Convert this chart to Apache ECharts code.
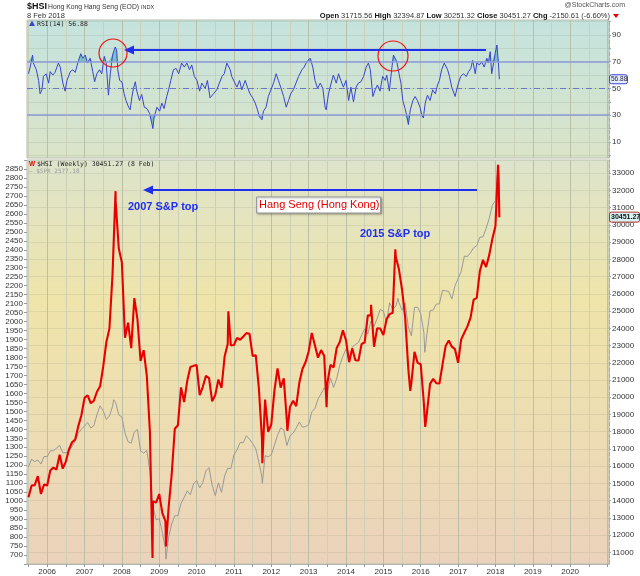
<!DOCTYPE html>
<html lang="en" style="height: 100%">

<head>
  <meta charset="utf-8">
</head>

<body style="height: 100%; margin: 0; background: #fff">
  <div id="container" style="width: 640px; height: 576px"></div>

  <script type="text/javascript" src="https://fastly.jsdelivr.net/npm/echarts@6/dist/echarts.min.js"></script>

  <script type="text/javascript">
    // monthly closes, first value = end of June 2005
    var firstMonth = [2005, 6];
    var hsiClose = [
      14201, 14880, 14903, 15428, 14386, 14937, 14876,
      15753, 15918, 15805, 16661, 15857, 16267, 16971, 17392, 17543, 18324, 18960, 19965,
      20106, 19652, 19801, 20319, 20635, 21773, 23185, 23984, 27143, 31352, 28643, 27813,
      23456, 24332, 22849, 25755, 24533, 22102, 22731, 21262, 18016, 13969, 13888, 14387,
      13278, 12812, 13576, 15521, 18171, 18379, 20573, 19724, 20955, 21752, 21822, 21873,
      20122, 20609, 21239, 21108, 19765, 20129, 21030, 20537, 22358, 23096, 23008, 23035,
      23447, 23338, 23528, 23720, 23684, 22398, 22440, 20535, 17592, 19864, 17989, 18434,
      20390, 21680, 20556, 21094, 18630, 19441, 19796, 19483, 20840, 21642, 22030, 22657,
      23730, 23020, 22300, 22737, 22392, 20803, 21883, 21731, 22860, 23206, 23881, 23306,
      22035, 22837, 22151, 22134, 23082, 23191, 24757, 24742, 22933, 23998, 23987, 23605,
      24507, 24823, 24901, 28133, 27424, 26250, 24636, 21670, 20846, 22640, 21996, 21914,
      19683, 19112, 20777, 21067, 20815, 20794, 21891, 22977, 23297, 22935, 22790, 22001,
      23361, 23741, 24112, 24615, 25661, 25765, 27324, 27970, 27554, 28246, 29177, 29919,
      32887
    ];
    var spxClose = [
      1191, 1234, 1220, 1229, 1207, 1249, 1248,
      1280, 1281, 1295, 1311, 1270, 1270, 1277, 1304, 1336, 1378, 1401, 1418,
      1438, 1407, 1421, 1482, 1531, 1503, 1455, 1474, 1527, 1549, 1481, 1468,
      1379, 1331, 1323, 1386, 1400, 1280, 1267, 1283, 1165, 969, 896, 903,
      826, 735, 798, 873, 919, 919, 987, 1021, 1057, 1036, 1096, 1115,
      1074, 1104, 1169, 1187, 1089, 1031, 1102, 1049, 1141, 1183, 1181, 1258,
      1286, 1327, 1326, 1364, 1345, 1321, 1292, 1219, 1131, 1253, 1247, 1258,
      1312, 1366, 1408, 1398, 1310, 1362, 1379, 1407, 1441, 1412, 1416, 1426,
      1498, 1515, 1569, 1598, 1631, 1606, 1686, 1633, 1682, 1757, 1806, 1848,
      1783, 1859, 1872, 1884, 1924, 1960, 1931, 2003, 1972, 2018, 2068, 2059,
      1995, 2105, 2068, 2086, 2107, 2063, 2104, 1972, 1920, 2079, 2080, 2044,
      1940, 1932, 2060, 2065, 2097, 2099, 2174, 2171, 2168, 2126, 2199, 2239,
      2279, 2364, 2363, 2384, 2412, 2423, 2470, 2472, 2519, 2575, 2648, 2674,
      2824
    ];
    // intra-month swing points (decimal year)
    var hsiSwingDates = [2007.83, 2008.82, 2009.18, 2010.85, 2011.76, 2012.43, 2013.48, 2014.67, 2015.32, 2015.72, 2016.12, 2018.07];
    var hsiSwingValues = [31958, 10676, 11345, 24989, 16170, 18056, 19426, 25362, 28588, 20368, 18278, 33484];
    var spxSwingDates = [2007.78, 2009.18, 2010.50, 2011.76, 2015.39, 2016.11, 2018.07];
    var spxSwingValues = [1565, 677, 1022, 1099, 2130, 1829, 2873];
    var lastDate = 2018.105;
    var hsiLast = 30451.27;
    var spxLast = 2577.18;

    var rsiDates = [
      2005.50, 2005.545, 2005.61, 2005.63, 2005.71, 2005.77, 2005.81, 2005.86, 2005.90, 2005.97,
      2006.04, 2006.08, 2006.15, 2006.21, 2006.30, 2006.35, 2006.42, 2006.48, 2006.53, 2006.62,
      2006.69, 2006.75, 2006.84, 2006.90, 2006.95, 2007.02, 2007.08, 2007.15, 2007.22, 2007.27,
      2007.33, 2007.40, 2007.46, 2007.53, 2007.58, 2007.64, 2007.69, 2007.75, 2007.82, 2007.86,
      2007.89, 2007.94, 2008.00, 2008.06, 2008.11, 2008.18, 2008.22, 2008.27, 2008.31, 2008.36,
      2008.40, 2008.47, 2008.53, 2008.60, 2008.67, 2008.74, 2008.80, 2008.83, 2008.86, 2008.94,
      2009.01, 2009.07, 2009.13, 2009.20, 2009.25, 2009.31, 2009.38, 2009.45, 2009.52, 2009.60,
      2009.67, 2009.74, 2009.81, 2009.87, 2009.94, 2010.01, 2010.08, 2010.14, 2010.23, 2010.29,
      2010.36, 2010.45, 2010.54, 2010.61, 2010.68, 2010.74, 2010.81, 2010.85, 2010.90, 2010.94,
      2011.01, 2011.08, 2011.15, 2011.21, 2011.30, 2011.36, 2011.43, 2011.50, 2011.57, 2011.63,
      2011.68, 2011.75, 2011.79, 2011.86, 2011.92, 2011.99, 2012.06, 2012.13, 2012.19, 2012.25,
      2012.33, 2012.40, 2012.46, 2012.52, 2012.59, 2012.66, 2012.73, 2012.82, 2012.88, 2012.95,
      2013.04, 2013.11, 2013.17, 2013.24, 2013.31, 2013.38, 2013.44, 2013.47, 2013.53, 2013.59,
      2013.66, 2013.74, 2013.80, 2013.86, 2013.93, 2014.00, 2014.07, 2014.13, 2014.20, 2014.27,
      2014.33, 2014.40, 2014.47, 2014.54, 2014.60, 2014.65, 2014.72, 2014.78, 2014.84, 2014.91,
      2014.98, 2015.05, 2015.09, 2015.16, 2015.23, 2015.27, 2015.31, 2015.36, 2015.42, 2015.47,
      2015.52, 2015.58, 2015.63, 2015.67, 2015.72, 2015.79, 2015.85, 2015.91, 2015.98, 2016.03,
      2016.07, 2016.12, 2016.18, 2016.25, 2016.32, 2016.39, 2016.45, 2016.50, 2016.56, 2016.63,
      2016.68, 2016.72, 2016.77, 2016.83, 2016.88, 2016.92, 2016.97, 2017.01, 2017.07, 2017.14,
      2017.22, 2017.28, 2017.34, 2017.39, 2017.46, 2017.50, 2017.57, 2017.63, 2017.70, 2017.77,
      2017.81, 2017.86, 2017.90, 2017.95, 2017.99, 2018.04, 2018.08, 2018.105
    ];
    var rsiValues = [
      61, 66, 75, 69, 64, 56, 46, 49, 59, 61,
      54, 62.6, 60, 62, 69, 66, 54, 48, 56, 62.6,
      64, 62, 71, 76, 72.6, 75, 69, 72.6, 62.6, 55,
      61, 64, 61, 74, 69, 45, 61, 75, 81, 79,
      64, 56, 55, 46, 41, 36, 34, 44, 50, 55,
      48, 41, 45.5, 36, 35, 31.5, 24, 20, 28, 36,
      33, 39, 35, 44, 49, 56, 64, 65, 61, 69,
      66, 69, 64, 67.6, 59, 56, 48, 54, 50, 56,
      43, 46, 49, 54, 59, 61, 69, 70, 64, 59,
      55, 51, 56, 49, 56, 51, 46, 43, 39, 34,
      29, 26.6, 33, 36, 44, 49, 54, 61, 56, 51,
      44, 36, 41, 46, 49, 54, 59, 64, 66, 70,
      72.6, 66, 56, 50, 54, 50, 36, 34, 46, 52.6,
      60, 54, 61, 56, 51, 56, 41, 51, 40, 51,
      54, 55, 59, 66, 69, 64, 44, 49, 52.6, 48,
      59, 56, 60, 48, 66, 75, 76, 70, 61, 54,
      41, 35, 29, 23, 34, 41, 44, 41, 36, 30,
      28, 39, 45, 41, 49, 46, 52.6, 56, 64, 69,
      70, 64, 59, 51, 50, 44, 50, 54, 59, 61,
      59, 62.6, 65, 71, 61, 69, 67.6, 70, 66, 72.6,
      69, 77.5, 61, 69, 76, 82.5, 69, 56.88
    ];

    var rsiLabels = [10, 30, 50, 70, 90];
    var rsiTicks = [0, 10, 20, 30, 40, 50, 60, 70, 80, 90, 100];
    var hsiLabels = [11000, 12000, 13000, 14000, 15000, 16000, 17000, 18000, 19000, 20000, 21000, 22000,
      23000, 24000, 25000, 26000, 27000, 28000, 29000, 30000, 31000, 32000, 33000];
    var yearLabels = [2006, 2007, 2008, 2009, 2010, 2011, 2012, 2013, 2014, 2015, 2016, 2017, 2018, 2019, 2020];
    var halfYears = [];
    for (var h = 2005.5; h <= 2021; h += 0.5) halfYears.push(h);

    function buildLine(closes, swingDates, swingValues, last) {
      var pts = closes.map(function (v, i) {
        return [firstMonth[0] + (firstMonth[1] + i) / 12, v];
      });
      swingDates.forEach(function (d, i) { pts.push([d, swingValues[i]]); });
      pts.push([lastDate, last]);
      pts.sort(function (a, b) { return a[0] - b[0]; });
      return pts;
    }

    var rsiData = rsiDates.map(function (d, i) { return [d, rsiValues[i]]; });

    var dom = document.getElementById('container');
    var myChart = echarts.init(dom, null, { renderer: 'canvas' });
    var font = 'Liberation Sans, Arial, sans-serif';
    var mono = 'DejaVu Sans Mono, monospace';

    var rsiBg = new echarts.graphic.LinearGradient(0, 0, 0, 1, [
      { offset: 0, color: '#c4e3de' }, { offset: 1, color: '#dbe4c8' }
    ]);
    var mainBg = new echarts.graphic.LinearGradient(0, 0, 0, 1, [
      { offset: 0, color: '#dde4cc' }, { offset: 0.35, color: '#efe4aa' },
      { offset: 0.7, color: '#eddcb4' }, { offset: 1, color: '#ebd2bb' }
    ]);
    var gridLineColors = ['#ccd0b8', '#b9c0a6'];
    var plain = function (v) { return String(v); };

    var option = {
      animation: false,
      grid: [
        { left: 27, right: 31, top: 20, height: 138, show: true, backgroundColor: rsiBg, borderColor: '#b8bfb0', borderWidth: 1 },
        { left: 27, right: 31, top: 160, height: 407, show: true, backgroundColor: mainBg, borderColor: '#b8bfb0', borderWidth: 1 }
      ],
      xAxis: [
        {
          gridIndex: 0, type: 'value', min: 2005.46, max: 2021.04,
          axisLine: { show: false },
          axisLabel: { show: false },
          axisTick: { show: false, customValues: halfYears },
          splitLine: { show: true, lineStyle: { color: gridLineColors, width: 1 } }
        },
        {
          gridIndex: 1, type: 'value', min: 2005.46, max: 2021.04,
          axisLine: { show: true, lineStyle: { color: '#b0b8b0' } },
          axisLabel: {
            customValues: yearLabels, fontSize: 8, color: '#333', fontFamily: font, margin: 4,
            formatter: function (v) { return String(Math.round(v)); }
          },
          axisTick: { show: true, customValues: halfYears, length: 3, lineStyle: { color: '#999' } },
          splitLine: { show: true, lineStyle: { color: gridLineColors, width: 1 } }
        }
      ],
      yAxis: [
        {
          gridIndex: 0, type: 'value', position: 'right', min: -2, max: 101.2,
          axisLine: { show: true, lineStyle: { color: '#8fb0c8', type: 'dashed' } },
          axisLabel: { customValues: rsiLabels, fontSize: 8, color: '#333', fontFamily: font, margin: 3, formatter: plain },
          axisTick: { show: true, customValues: rsiTicks, length: 2, lineStyle: { color: '#8fb0c8' } },
          splitLine: { show: true, lineStyle: { color: 'rgba(150,165,150,0.25)' } }
        },
        {
          gridIndex: 1, type: 'value', position: 'left', min: 650, max: 2900, interval: 50,
          axisLine: { show: false },
          axisLabel: {
            fontSize: 8, color: '#333', fontFamily: font, margin: 4,
            formatter: function (v) { return (v === 650 || v === 2900) ? '' : String(v); }
          },
          axisTick: { show: true, length: 3, lineStyle: { color: '#999' } },
          splitLine: { show: false }
        },
        {
          gridIndex: 1, type: 'value', position: 'right', min: 10326, max: 33766,
          axisLine: { show: true, lineStyle: { color: '#8fb0c8', type: 'dashed' } },
          axisLabel: { customValues: hsiLabels, fontSize: 8, color: '#333', fontFamily: font, margin: 3, formatter: plain },
          axisTick: { show: true, customValues: hsiLabels, length: 2, lineStyle: { color: '#8fb0c8' } },
          splitLine: { show: true, lineStyle: { color: 'rgba(160,160,130,0.22)' } }
        }
      ],
      series: [
        {
          name: 'RSI over 70', type: 'line', xAxisIndex: 0, yAxisIndex: 0,
          data: rsiData.map(function (p) { return [p[0], Math.max(p[1], 70)]; }),
          showSymbol: false, silent: true, lineStyle: { width: 0 },
          areaStyle: { origin: 70, color: '#5fb6b4', opacity: 0.75 }
        },
        {
          name: 'RSI under 30', type: 'line', xAxisIndex: 0, yAxisIndex: 0,
          data: rsiData.map(function (p) { return [p[0], Math.min(p[1], 30)]; }),
          showSymbol: false, silent: true, lineStyle: { width: 0 },
          areaStyle: { origin: 30, color: '#5fb6b4', opacity: 0.75 }
        },
        {
          name: 'RSI(14)', type: 'line', xAxisIndex: 0, yAxisIndex: 0,
          data: rsiData,
          showSymbol: false, lineStyle: { color: '#3a44cc', width: 1 },
          markLine: {
            silent: true, symbol: 'none', label: { show: false },
            data: [
              { yAxis: 70, lineStyle: { color: '#8d98d8', width: 1.6, type: 'solid' } },
              { yAxis: 30, lineStyle: { color: '#8d98d8', width: 1.6, type: 'solid' } },
              { yAxis: 50, lineStyle: { color: '#6a76c6', width: 1, type: [6, 3, 1, 3] } }
            ]
          }
        },
        {
          name: '$SPX', type: 'line', xAxisIndex: 1, yAxisIndex: 1,
          data: buildLine(spxClose, spxSwingDates, spxSwingValues, spxLast),
          showSymbol: false, lineStyle: { color: '#999', width: 1 }, z: 2
        },
        {
          name: '$HSI', type: 'line', xAxisIndex: 1, yAxisIndex: 2,
          data: buildLine(hsiClose, hsiSwingDates, hsiSwingValues, hsiLast),
          showSymbol: false, lineStyle: { color: '#e80000', width: 2.1 }, z: 3
        }
      ]
    };
    myChart.setOption(option);

    var rsiTagY = myChart.convertToPixel({ yAxisIndex: 0 }, rsiValues[rsiValues.length - 1]);
    var hsiTagY = myChart.convertToPixel({ yAxisIndex: 2 }, hsiLast);

    var blue = '#1f2ff0';
    myChart.setOption({
      graphic: [
        // header
        { type: 'text', left: 27, top: 2, style: { text: '$HSI', font: 'bold 9px ' + font, fill: '#111' } },
        { type: 'text', left: 48, top: 3.5, style: { text: 'Hong Kong Hang Seng (EOD)', font: '6.8px ' + font, fill: '#333' } },
        { type: 'text', left: 141, top: 4.5, style: { text: 'INDX', font: '5.5px ' + font, fill: '#333' } },
        { type: 'text', left: 27, top: 12, style: { text: '8 Feb 2018', font: '7.5px ' + font, fill: '#333' } },
        { type: 'text', right: 15, top: 2, style: { text: '@StockCharts.com', font: '7px ' + font, fill: '#555' } },
        {
          type: 'text', right: 30, top: 12,
          style: {
            text: '{b|Open} 31715.56 {b|High} 32394.87 {b|Low} 30251.32 {b|Close} 30451.27 {b|Chg} -2150.61 (-6.60%)',
            font: '7.5px ' + font, fill: '#333',
            rich: { b: { fontWeight: 'bold', fontSize: 7.5, fontFamily: font, fill: '#111' } }
          }
        },
        { type: 'polygon', shape: { points: [[613, 14], [619, 14], [616, 18]] }, style: { fill: '#e00000' } },
        // RSI legend
        { type: 'polygon', shape: { points: [[29, 26], [32, 20.5], [35, 26]] }, style: { fill: '#3a44cc' }, z: 10 },
        { type: 'text', left: 37, top: 20.5, style: { text: 'RSI(14) 56.88', font: '6.5px ' + mono, fill: '#222' }, z: 10 },
        // main legend
        { type: 'text', left: 29, top: 160.5, style: { text: 'W', font: 'bold 6.5px ' + font, fill: '#e00000' }, z: 10 },
        { type: 'text', left: 37, top: 161, style: { text: '$HSI (Weekly) 30451.27 (8 Feb)', font: '6.5px ' + mono, fill: '#222' }, z: 10 },
        { type: 'text', left: 29, top: 168, style: { text: '\u2014 $SPX 2577.18', font: '6px ' + mono, fill: '#9a9a9a' }, z: 10 },
        // RSI annotations
        { type: 'circle', shape: { cx: 113, cy: 53, r: 14 }, style: { fill: 'none', stroke: '#ee1111', lineWidth: 1.2 }, z: 10 },
        { type: 'circle', shape: { cx: 393, cy: 56, r: 15 }, style: { fill: 'none', stroke: '#ee1111', lineWidth: 1.2 }, z: 10 },
        { type: 'line', shape: { x1: 486, y1: 50, x2: 132, y2: 50 }, style: { stroke: blue, lineWidth: 2.2 }, z: 10 },
        { type: 'polygon', shape: { points: [[124, 50], [134, 45.5], [134, 54.5]] }, style: { fill: blue }, z: 10 },
        // main annotations
        { type: 'line', shape: { x1: 477, y1: 190, x2: 150, y2: 190 }, style: { stroke: blue, lineWidth: 2 }, z: 10 },
        { type: 'polygon', shape: { points: [[143, 190], [153, 185.5], [153, 194.5]] }, style: { fill: blue }, z: 10 },
        { type: 'text', left: 128, top: 201, style: { text: '2007 S&P top', font: 'bold 11px ' + font, fill: blue }, z: 10 },
        { type: 'text', left: 360, top: 228, style: { text: '2015 S&P top', font: 'bold 11px ' + font, fill: blue }, z: 10 },
        { type: 'rect', shape: { x: 256.5, y: 197, width: 124, height: 16 }, style: { fill: '#fff', stroke: '#9a9a9a', lineWidth: 1, shadowBlur: 2, shadowColor: 'rgba(0,0,0,0.3)', shadowOffsetX: 1, shadowOffsetY: 1 }, z: 10 },
        { type: 'text', left: 259, top: 199, style: { text: 'Hang Seng (Hong Kong)', font: '11px ' + font, fill: '#e00000' }, z: 11 },
        // last value tags
        { type: 'rect', shape: { x: 609.5, y: rsiTagY - 4.5, width: 18, height: 9, r: 2 }, style: { fill: '#e4ecff', stroke: '#3a44cc', lineWidth: 1 }, z: 10 },
        { type: 'text', x: 611, y: rsiTagY, style: { text: '56.88', font: '6.5px ' + font, fill: '#223', textVerticalAlign: 'middle' }, z: 11 },
        { type: 'rect', shape: { x: 609.5, y: hsiTagY - 5, width: 30, height: 10, r: 2 }, style: { fill: '#d8f2f4', stroke: '#b03030', lineWidth: 1 }, z: 10 },
        { type: 'text', x: 611, y: hsiTagY, style: { text: '30451.27', font: 'bold 7px ' + font, fill: '#111', textVerticalAlign: 'middle' }, z: 11 }
      ]
    });

    window.addEventListener('resize', myChart.resize);
  </script>
</body>

</html>
